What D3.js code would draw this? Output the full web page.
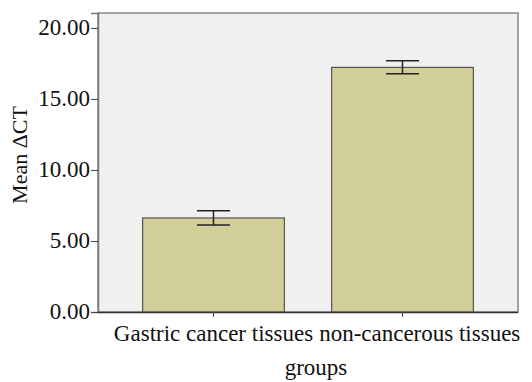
<!DOCTYPE html>
<html><head><meta charset="utf-8">
<script src="https://cdn.jsdelivr.net/npm/d3@7"></script>
<style>
html,body{margin:0;padding:0;background:#fff;}
svg text{font-family:"Liberation Serif","Times New Roman",serif;fill:#111;}
</style></head>
<body>
<svg id="chart" width="532" height="382"></svg>
<script>
const categories = ["Gastric cancer tissues", "non-cancerous tissues"];
const means = [6.62, 17.22];
const errLow = [6.12, 16.78];
const errHigh = [7.12, 17.68];
const yTicks = [0, 5, 10, 15, 20];
const yLabel = "Mean \u0394CT";
const xLabel = "groups";

(function () {
const svg = d3.select("#chart");
const pLeft = 98, pRight = 518, pTop = 13, pBottom = 312;

const y = d3.scaleLinear().domain([0, 21.05]).range([pBottom, pTop]);
const x = d3.scaleBand().domain(categories).range([pLeft + 21, pRight - 21]).paddingInner(0.25).paddingOuter(0.125);

// plot background
svg.append("rect").attr("x", pLeft).attr("y", pTop).attr("width", pRight - pLeft).attr("height", pBottom - pTop)
  .attr("fill", "#f0f0f0").attr("stroke", "#888").attr("stroke-width", 1.5);

// bars
svg.selectAll("rect.bar").data(categories).enter().append("rect").attr("class", "bar")
  .attr("x", d => x(d)).attr("width", x.bandwidth())
  .attr("y", (d, i) => y(means[i])).attr("height", (d, i) => y(0) - y(means[i]))
  .attr("fill", "#d3cf99").attr("stroke", "#555").attr("stroke-width", 1.2);

// error bars
const capW = 33;
const eg = svg.selectAll("g.err").data(categories).enter().append("g").attr("class", "err");
const cxOf = d => x(d) + x.bandwidth() / 2;
eg.append("line").attr("x1", cxOf).attr("x2", cxOf)
  .attr("y1", (d, i) => y(errHigh[i])).attr("y2", (d, i) => y(errLow[i]))
  .attr("stroke", "#222").attr("stroke-width", 1.5);
eg.append("line").attr("x1", d => cxOf(d) - capW / 2).attr("x2", d => cxOf(d) + capW / 2)
  .attr("y1", (d, i) => y(errHigh[i])).attr("y2", (d, i) => y(errHigh[i]))
  .attr("stroke", "#222").attr("stroke-width", 1.5);
eg.append("line").attr("x1", d => cxOf(d) - capW / 2).attr("x2", d => cxOf(d) + capW / 2)
  .attr("y1", (d, i) => y(errLow[i])).attr("y2", (d, i) => y(errLow[i]))
  .attr("stroke", "#222").attr("stroke-width", 1.5);

// y axis
const yAxis = svg.append("g").attr("transform", `translate(${pLeft},0)`)
  .attr("font-family", null).attr("font-size", null)
  .call(d3.axisLeft(y).tickValues(yTicks).tickFormat(d3.format(".2f")).tickSize(7).tickPadding(1));
yAxis.attr("font-family", '"Liberation Serif","Times New Roman",serif').attr("font-size", 23);
yAxis.select(".domain").attr("stroke", "#777").attr("stroke-width", 1.5);
yAxis.selectAll(".tick line").attr("stroke", "#444");
yAxis.selectAll("text").attr("fill", "#111").attr("dy", "0.3em");

// x axis
const xAxis = svg.append("g").attr("transform", `translate(0,${pBottom})`)
  .call(d3.axisBottom(x).tickSize(5).tickFormat(""));
xAxis.select(".domain").attr("d", `M${pLeft},0.5H${pRight}`).attr("stroke", "#333").attr("stroke-width", 1.5);
xAxis.selectAll(".tick line").attr("stroke", "#444");

// category labels (shifted to avoid overlap, as in the original)
const fs = 23;
let prevEnd = -Infinity;
categories.forEach((c) => {
  const t = svg.append("text").attr("font-size", fs).attr("y", pBottom + 29).attr("text-anchor", "middle").text(c);
  const w = t.node().getComputedTextLength();
  let cx = cxOf(c);
  const maxRight = 530;
  if (cx + w / 2 > maxRight) cx = maxRight - w / 2;
  if (cx - w / 2 < prevEnd + 6) cx = prevEnd + 6 + w / 2;
  t.attr("x", cx);
  prevEnd = cx + w / 2;
});

svg.append("text").attr("font-size", fs).attr("x", 316).attr("y", 375).attr("text-anchor", "middle").text(xLabel);

svg.append("text").attr("font-size", 22).attr("text-anchor", "middle")
  .attr("transform", `translate(27,155) rotate(-90)`).text(yLabel);
})();
</script>
</body></html>
